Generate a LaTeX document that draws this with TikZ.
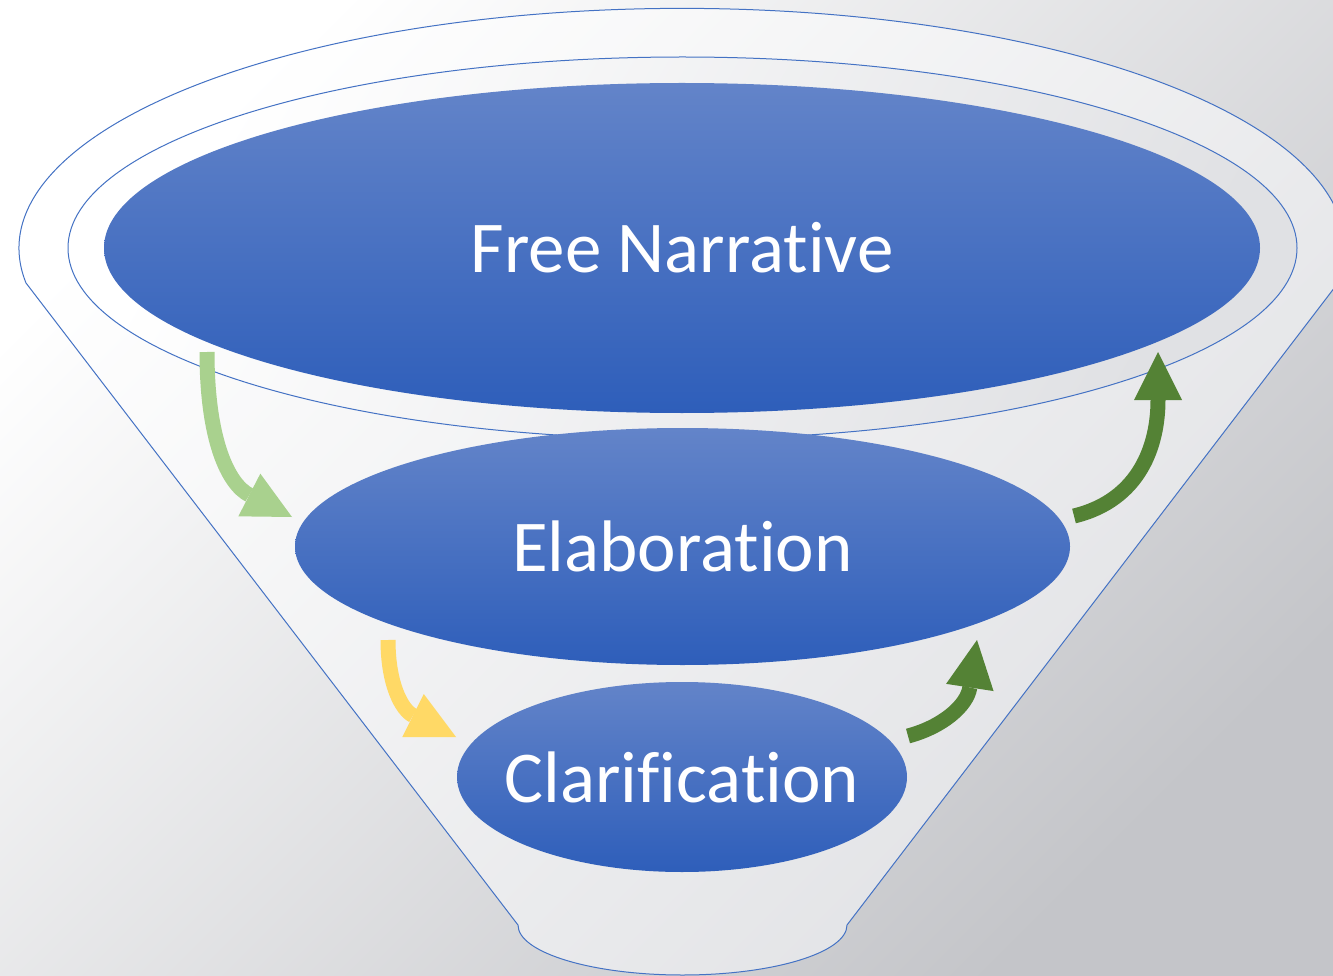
\documentclass[tikz,border=0pt]{standalone}
\usepackage{fontspec}
\setmainfont{Carlito}[Ligatures=NoCommon]
\usetikzlibrary{arrows.meta, shapes.geometric, positioning}
\definecolor{rim}{RGB}{68,114,196}
\definecolor{blobtop}{RGB}{99,132,201}
\definecolor{blobmid}{RGB}{68,114,196}
\definecolor{blobbot}{RGB}{46,94,186}
\definecolor{lgreen}{RGB}{169,209,142}
\definecolor{dgreen}{RGB}{84,130,53}
\definecolor{gold}{RGB}{255,217,102}
\definecolor{bgdark}{RGB}{196,197,201}
\definecolor{funnelgray}{RGB}{224,225,228}

\begin{document}
\begin{tikzpicture}[
    x=1pt, y=-1pt,
    rimline/.style={draw=rim, line width=1pt},
    stage/.style={ellipse, inner sep=0pt, top color=blobtop, middle color=blobmid,
        bottom color=blobbot},
    stagetext/.style={text=white, font=\fontsize{73}{80}\selectfont},
    flow/.style={line width=15pt, -{Triangle[width=48pt,length=48pt,line width=0pt]}},
]
\useasboundingbox (0,0) rectangle (1333,976);
\clip (0,0) rectangle (1333,976);
\shade[top color=white, bottom color=bgdark, shading angle=45] (0,0) rectangle (1333,976);
\draw[rimline, top color=white, bottom color=funnelgray, shading angle=45]
    (26,283) arc [start angle=188.3, end angle=-8.3, x radius=663pt, y radius=240pt]
    -- (847,925) arc [start angle=0, end angle=-180, x radius=164.5pt, y radius=50pt]
    -- cycle;
\draw[rimline, top color=white, bottom color=funnelgray, shading angle=60]
    (682.5,248) ellipse [x radius=614.5pt, y radius=191pt];

\node[stage, minimum width=1156pt, minimum height=330pt,
    label={[stagetext]center:Free Narrative}] (free) at (682,248) {};
\node[stage, minimum width=775pt, minimum height=237pt,
    label={[stagetext]center:Elaboration}] (elab) at (682.5,546.5) {};
\node[stage, minimum width=450pt, minimum height=190pt,
    label={[stagetext]center:Clarification}] (clar) at (682,777) {};

\coordinate (down1) at (207,352);
\coordinate (down1 tip) at (292,517);
\coordinate (down2) at (388,640);
\coordinate (down2 tip) at (456,737);
\coordinate (up1) at (908,736);
\coordinate (up1 tip) at (977,640);
\coordinate (up2) at (1074,516);
\coordinate (up2 tip) at (1158,352);

\draw[flow, lgreen] (down1) .. controls (207,440) and (228,484) .. (down1 tip);
\draw[flow, gold] (down2) .. controls (388,685) and (402,710) .. (down2 tip);
\draw[flow, dgreen] (up1) .. controls (942,727) and (967,706) .. (up1 tip);
\draw[flow, dgreen] (up2) .. controls (1140,500) and (1158,445) .. (up2 tip);
\end{tikzpicture}
\end{document}
